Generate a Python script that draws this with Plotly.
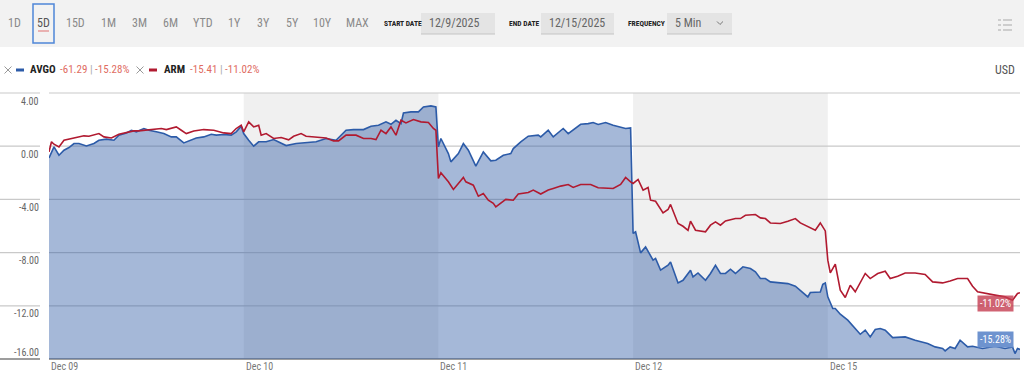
import plotly.graph_objects as go

# ---------------- data ----------------
avgo_time = [
    "12-09 09:30", "12-09 09:40", "12-09 09:50", "12-09 10:00", "12-09 10:10", "12-09 10:20", "12-09 10:30",
    "12-09 10:45", "12-09 11:00", "12-09 11:10", "12-09 11:25", "12-09 11:40", "12-09 11:50", "12-09 12:05",
    "12-09 12:15", "12-09 12:25", "12-09 12:40", "12-09 12:50", "12-09 13:05", "12-09 13:20", "12-09 13:35",
    "12-09 13:45", "12-09 14:00", "12-09 14:15", "12-09 14:25", "12-09 14:40", "12-09 14:55", "12-09 15:05",
    "12-09 15:20", "12-09 15:35", "12-09 15:45", "12-09 15:55",
    "12-10 09:30", "12-10 09:40", "12-10 09:50", "12-10 10:00", "12-10 10:15", "12-10 10:30", "12-10 10:45",
    "12-10 10:55", "12-10 11:15", "12-10 11:35", "12-10 11:55", "12-10 12:15", "12-10 12:35", "12-10 12:55",
    "12-10 13:10", "12-10 13:30", "12-10 13:45", "12-10 14:00", "12-10 14:15", "12-10 14:25", "12-10 14:35",
    "12-10 14:45", "12-10 14:50", "12-10 15:05", "12-10 15:20", "12-10 15:30", "12-10 15:45", "12-10 15:55",
    "12-11 09:30", "12-11 09:35", "12-11 09:50", "12-11 09:55", "12-11 10:10", "12-11 10:20", "12-11 10:30",
    "12-11 10:45", "12-11 11:00", "12-11 11:15", "12-11 11:25", "12-11 11:40", "12-11 11:55", "12-11 12:00",
    "12-11 12:15", "12-11 12:30", "12-11 12:50", "12-11 12:55", "12-11 13:10", "12-11 13:20", "12-11 13:40",
    "12-11 13:50", "12-11 14:05", "12-11 14:15", "12-11 14:30", "12-11 14:40", "12-11 14:50", "12-11 15:05",
    "12-11 15:20", "12-11 15:35", "12-11 15:45", "12-11 15:55",
    "12-12 09:30", "12-12 09:35", "12-12 09:45", "12-12 09:55", "12-12 10:10", "12-12 10:15", "12-12 10:25",
    "12-12 10:40", "12-12 10:45", "12-12 11:00", "12-12 11:10", "12-12 11:25", "12-12 11:30", "12-12 11:40",
    "12-12 11:55", "12-12 12:05", "12-12 12:15", "12-12 12:25", "12-12 12:35", "12-12 12:45", "12-12 12:55",
    "12-12 13:10", "12-12 13:25", "12-12 13:35", "12-12 13:45", "12-12 13:55", "12-12 14:05", "12-12 14:25",
    "12-12 14:40", "12-12 14:55", "12-12 15:05", "12-12 15:20", "12-12 15:25", "12-12 15:45", "12-12 15:50",
    "12-12 15:55",
    "12-15 09:30", "12-15 09:40", "12-15 09:45", "12-15 09:55", "12-15 10:10", "12-15 10:25", "12-15 10:35",
    "12-15 10:45", "12-15 10:55", "12-15 11:05", "12-15 11:15", "12-15 11:25", "12-15 11:40", "12-15 12:05",
    "12-15 12:25", "12-15 12:50", "12-15 13:05", "12-15 13:20", "12-15 13:25", "12-15 13:35", "12-15 13:45",
    "12-15 13:55", "12-15 14:10", "12-15 14:20", "12-15 14:40", "12-15 15:05", "12-15 15:25", "12-15 15:40",
    "12-15 15:45", "12-15 15:50", "12-15 15:55",
]
avgo_pct = [
    -0.88, -0.05, -0.68, -0.30, -0.10, 0.20, 0.20,
    0.02, 0.20, 0.45, 0.53, 0.45, 0.83, 1.00,
    1.20, 1.08, 1.33, 1.20, 1.08, 0.95, 0.70,
    0.70, 0.25, 0.45, 0.62, 0.70, 0.90, 0.83,
    0.88, 0.83, 1.08, 1.50,
    0.95, 0.45, 0.00, 0.33, 0.33, 0.50, 0.20,
    0.05, 0.20, 0.28, 0.33, 0.58, 0.45, 1.20,
    1.25, 1.25, 1.50, 1.58, 1.83, 1.65, 1.95,
    1.70, 2.50, 2.58, 2.58, 2.95, 3.03, 2.95,
    -0.05, 0.58, -0.55, -1.18, -0.55, 0.20, -0.30,
    -1.50, -0.43, -1.10, -1.05, -0.68, -0.55, -0.18,
    0.33, 0.75, 0.83, 0.70, 1.20, 0.70, 1.33,
    0.95, 1.33, 1.65, 1.70, 1.78, 1.63, 1.78,
    1.58, 1.45, 1.33, 1.38,
    -6.56, -6.44, -8.02, -7.57, -8.57, -8.44, -9.32,
    -8.95, -8.70, -10.28, -10.08, -9.32, -9.83, -9.53,
    -10.08, -9.57, -8.95, -9.57, -9.57, -9.25, -9.57,
    -9.07, -9.20, -9.45, -9.95, -9.95, -10.20, -10.28,
    -10.33, -10.53, -10.83, -11.33, -11.00, -10.96, -10.38,
    -10.28,
    -11.33, -12.20, -12.20, -12.63, -13.08, -13.71, -14.14,
    -13.83, -14.34, -13.78, -13.71, -13.83, -14.39, -14.34,
    -14.59, -14.84, -15.09, -15.21, -15.39, -15.09, -15.21,
    -14.59, -15.09, -15.04, -15.21, -15.04, -15.21, -15.09,
    -15.59, -15.21, -15.28,
]

arm_time = [
    "12-09 09:30", "12-09 09:35", "12-09 09:40", "12-09 09:50", "12-09 10:00", "12-09 10:10", "12-09 10:25",
    "12-09 10:40", "12-09 10:50", "12-09 11:10", "12-09 11:20", "12-09 11:35", "12-09 11:50", "12-09 12:00",
    "12-09 12:20", "12-09 12:30", "12-09 12:55", "12-09 13:15", "12-09 13:25", "12-09 13:45", "12-09 13:55",
    "12-09 14:05", "12-09 14:20", "12-09 14:40", "12-09 15:00", "12-09 15:20", "12-09 15:35", "12-09 15:45",
    "12-09 15:55",
    "12-10 09:30", "12-10 09:40", "12-10 09:50", "12-10 10:00", "12-10 10:05", "12-10 10:15", "12-10 10:30",
    "12-10 10:45", "12-10 11:00", "12-10 11:10", "12-10 11:25", "12-10 11:35", "12-10 11:55", "12-10 12:15",
    "12-10 12:30", "12-10 12:40", "12-10 12:55", "12-10 13:15", "12-10 13:30", "12-10 13:45", "12-10 13:55",
    "12-10 14:05", "12-10 14:15", "12-10 14:25", "12-10 14:35", "12-10 14:45", "12-10 14:55", "12-10 15:10",
    "12-10 15:25", "12-10 15:40", "12-10 15:50", "12-10 15:55",
    "12-11 09:30", "12-11 09:35", "12-11 09:50", "12-11 10:00", "12-11 10:10", "12-11 10:20", "12-11 10:25",
    "12-11 10:40", "12-11 10:50", "12-11 11:00", "12-11 11:10", "12-11 11:20", "12-11 11:25", "12-11 11:35",
    "12-11 11:45", "12-11 12:00", "12-11 12:10", "12-11 12:30", "12-11 12:40", "12-11 12:55", "12-11 13:10",
    "12-11 13:20", "12-11 13:35", "12-11 13:50", "12-11 14:00", "12-11 14:15", "12-11 14:35", "12-11 14:50",
    "12-11 15:05", "12-11 15:20", "12-11 15:35", "12-11 15:45", "12-11 15:55",
    "12-12 09:30", "12-12 09:40", "12-12 09:50", "12-12 10:00", "12-12 10:05", "12-12 10:15", "12-12 10:30",
    "12-12 10:40", "12-12 10:45", "12-12 11:00", "12-12 11:10", "12-12 11:20", "12-12 11:25", "12-12 11:35",
    "12-12 11:55", "12-12 12:05", "12-12 12:15", "12-12 12:25", "12-12 12:35", "12-12 12:55", "12-12 13:05",
    "12-12 13:15", "12-12 13:35", "12-12 13:45", "12-12 13:55", "12-12 14:05", "12-12 14:25", "12-12 14:40",
    "12-12 14:55", "12-12 15:05", "12-12 15:20", "12-12 15:35", "12-12 15:45", "12-12 15:55",
    "12-15 09:30", "12-15 09:35", "12-15 09:45", "12-15 09:55", "12-15 10:05", "12-15 10:15", "12-15 10:25",
    "12-15 10:35", "12-15 10:45", "12-15 10:55", "12-15 11:10", "12-15 11:25", "12-15 11:35", "12-15 11:50",
    "12-15 12:05", "12-15 12:25", "12-15 12:45", "12-15 13:00", "12-15 13:20", "12-15 13:35", "12-15 13:50",
    "12-15 14:10", "12-15 14:20", "12-15 14:30", "12-15 14:45", "12-15 15:05", "12-15 15:25", "12-15 15:40",
    "12-15 15:50", "12-15 15:55",
]
arm_pct = [
    -0.43, 0.33, 0.15, -0.05, 0.45, 0.53, 0.62,
    0.78, 0.75, 0.95, 0.70, 0.62, 0.90, 1.00,
    1.15, 1.15, 1.25, 1.33, 1.25, 1.45, 1.20,
    0.95, 1.15, 1.25, 1.20, 1.00, 0.95, 1.33,
    1.58,
    1.08, 1.83, 1.45, 1.58, 0.83, 0.95, 0.58,
    0.65, 0.48, 0.75, 0.95, 0.75, 0.70, 0.62,
    0.40, 0.40, 0.83, 0.83, 0.58, 0.58, 0.50,
    1.20, 0.95, 1.45, 0.83, 1.95, 1.75, 2.00,
    1.83, 1.78, 1.33, 1.20,
    -2.43, -2.00, -2.68, -3.25, -2.80, -2.35, -2.68,
    -2.93, -3.76, -3.56, -4.06, -4.30, -4.56, -4.26,
    -4.00, -4.06, -3.60, -3.48, -3.30, -3.60, -3.30,
    -3.18, -3.00, -2.88, -3.10, -2.88, -2.88, -3.13,
    -3.18, -3.18, -2.88, -2.35, -2.68,
    -2.80, -2.50, -3.30, -3.10, -4.06, -4.14, -5.01,
    -4.76, -4.38, -5.81, -6.02, -6.32, -5.64, -6.32,
    -6.44, -5.94, -5.69, -5.94, -5.62, -5.44, -5.44,
    -5.19, -5.14, -5.39, -5.44, -5.77, -5.81, -5.64,
    -5.44, -5.77, -6.02, -6.32, -5.77, -6.37,
    -8.57, -9.53, -8.87, -10.83, -11.38, -10.45, -10.95,
    -10.28, -9.57, -9.95, -9.57, -9.40, -9.95, -9.77,
    -9.53, -9.53, -9.65, -10.20, -10.28, -10.13, -9.95,
    -9.95, -10.53, -10.95, -11.08, -11.20, -11.33, -11.58,
    -11.08, -11.02,
]

year = "2025-"
day_ticks = ["12-09 09:30", "12-10 09:30", "12-11 09:30", "12-12 09:30", "12-15 09:30"]
day_labels = ["Dec 09", "Dec 10", "Dec 11", "Dec 12", "Dec 15"]
shaded_sessions = [("12-10 09:30", "12-11 09:30"), ("12-12 09:30", "12-15 09:30")]
x_range = ["12-09 09:30", "12-15 15:55"]
y_ticks = [4, 0, -4, -8, -12, -16]
y_labels = ["4.00", "0.00", "-4.00", "-8.00", "-12.00", "-16.00"]
y_min, y_max = -16, 4

range_buttons = ["1D", "5D", "15D", "1M", "3M", "6M", "YTD", "1Y", "3Y", "5Y", "10Y", "MAX"]
selected_button = "5D"
start_date, end_date, frequency = "12/9/2025", "12/15/2025", "5 Min"
legend_items = [("AVGO", "-61.29", "-15.28%"), ("ARM", "-15.41", "-11.02%")]
last_labels = ["-15.28%", "-11.02%"]

# ---------------- styling ----------------
W, H = 1024, 381
L, R, T, B = 49, 4, 93, 22
PW, PH = W - L - R, H - T - B
FONT = "Liberation Sans Narrow, Roboto Condensed, Arial Narrow, Roboto, sans-serif"
BLUE = "#2c5ba8"
RED = "#b11a30"
FILL = "rgba(46,90,164,0.43)"


def px(x):
    return (x - L) / PW


def py(y):
    return (H - B - y) / PH


def ts(s):
    return year + s


fig = go.Figure()

ax = [ts(t) for t in avgo_time]
fig.add_trace(go.Scatter(x=ax, y=[y_min] * len(ax), mode="lines", line=dict(width=0),
                         hoverinfo="skip", showlegend=False))
fig.add_trace(go.Scatter(x=ax, y=avgo_pct, mode="lines", fill="tonexty", fillcolor=FILL,
                         line=dict(color=BLUE, width=1.6), name="AVGO", showlegend=False))
fig.add_trace(go.Scatter(x=[ts(t) for t in arm_time], y=arm_pct, mode="lines",
                         line=dict(color=RED, width=1.6), name="ARM", showlegend=False))

shapes = []
annotations = []

# shaded alternate sessions
for a, b in shaded_sessions:
    shapes.append(dict(type="rect", xref="x", yref="paper", x0=ts(a), x1=ts(b), y0=0, y1=1,
                       fillcolor="#f0f0f0", line=dict(width=0), layer="below"))

# horizontal grid lines (incl. the short parts under the labels)
for v in y_ticks:
    yy = (v - y_min) / (y_max - y_min)
    col = "#7d7d7d" if v == y_min else "#c9c9c9"
    lw = 1.5 if v == y_min else 1.2
    shapes.append(dict(type="line", xref="paper", yref="paper", x0=px(0), x1=px(40), y0=yy, y1=yy,
                       line=dict(color=col, width=lw), layer="below"))
    shapes.append(dict(type="line", xref="paper", yref="paper", x0=0, x1=1, y0=yy, y1=yy,
                       line=dict(color=col, width=lw), layer="below"))

# y labels
for v, lab in zip(y_ticks, y_labels):
    annotations.append(dict(xref="paper", yref="y", x=px(41), y=v, xanchor="right", yanchor="middle",
                            yshift=(7 if v == y_min else -8), text=lab, showarrow=False,
                            font=dict(family=FONT, size=10, color="#666666")))

# x labels
for t, lab in zip(day_ticks, day_labels):
    annotations.append(dict(xref="x", yref="paper", x=ts(t), y=py(366), xanchor="left", yanchor="middle",
                            text=lab, showarrow=False, font=dict(family=FONT, size=10, color="#777777")))

# ---------------- header toolbar ----------------
shapes.append(dict(type="rect", xref="paper", yref="paper", x0=px(0), x1=px(W), y0=py(0), y1=py(47),
                   fillcolor="#f2f2f2", line=dict(width=0), layer="below"))
btn_x = [14, 43, 75, 108, 139, 170, 203, 234, 263, 292, 322, 357]
for bx, lab in zip(btn_x, range_buttons):
    sel = lab == selected_button
    annotations.append(dict(xref="paper", yref="paper", x=px(bx), y=py(23), xanchor="center",
                            yanchor="middle", text=lab, showarrow=False,
                            font=dict(family=FONT, size=12, color="#555555" if sel else "#8a8a8a")))
    if sel:
        shapes.append(dict(type="rect", xref="paper", yref="paper", x0=px(33), x1=px(54),
                           y0=py(4), y1=py(43), line=dict(color="#4f86d8", width=1.5),
                           fillcolor="rgba(0,0,0,0)"))
        shapes.append(dict(type="line", xref="paper", yref="paper", x0=px(38), x1=px(49),
                           y0=py(31), y1=py(31), line=dict(color="#e07070", width=1)))

for lx, lab in [(382, "START DATE"), (507, "END DATE"), (626, "FREQUENCY")]:
    annotations.append(dict(xref="paper", yref="paper", x=px(lx), y=py(23), xanchor="left",
                            yanchor="middle", text="<b>" + lab + "</b>", showarrow=False,
                            font=dict(family=FONT, size=7.5, color="#222222")))
for x0, x1, txt in [(421, 495, start_date), (541, 614, end_date), (667, 732, frequency)]:
    shapes.append(dict(type="rect", xref="paper", yref="paper", x0=px(x0), x1=px(x1),
                       y0=py(13), y1=py(34), fillcolor="#e4e4e4", line=dict(width=0)))
    shapes.append(dict(type="line", xref="paper", yref="paper", x0=px(x0), x1=px(x1),
                       y0=py(34), y1=py(34), line=dict(color="#c4c4c4", width=1)))
    annotations.append(dict(xref="paper", yref="paper", x=px(x0 + 6), y=py(23), xanchor="left",
                            yanchor="middle", text=txt, showarrow=False,
                            font=dict(family=FONT, size=12, color="#666666")))
# dropdown chevron
shapes.append(dict(type="path", xref="paper", yref="paper",
                   path="M %f %f L %f %f L %f %f" % (px(717), py(21.5), px(720), py(24.5), px(723), py(21.5)),
                   line=dict(color="#777777", width=1)))
# list icon
for ry in [20, 25, 30]:
    shapes.append(dict(type="line", xref="paper", yref="paper", x0=px(998), x1=px(1001), y0=py(ry), y1=py(ry),
                       line=dict(color="#b5b5b5", width=1.2)))
    shapes.append(dict(type="line", xref="paper", yref="paper", x0=px(1003), x1=px(1012), y0=py(ry), y1=py(ry),
                       line=dict(color="#b5b5b5", width=1.2)))

# ---------------- legend row ----------------
leg_pos = [(8, 16, 24, 28, 58), (140, 149, 157, 162, 188)]
leg_col = [BLUE, RED]
for (xx, d0, d1, nx, vx), (name, chg, pct), col in zip(leg_pos, legend_items, leg_col):
    s = 3.5
    shapes.append(dict(type="line", xref="paper", yref="paper", x0=px(xx - s), x1=px(xx + s),
                       y0=py(70 - s), y1=py(70 + s), line=dict(color="#999999", width=1)))
    shapes.append(dict(type="line", xref="paper", yref="paper", x0=px(xx - s), x1=px(xx + s),
                       y0=py(70 + s), y1=py(70 - s), line=dict(color="#999999", width=1)))
    shapes.append(dict(type="line", xref="paper", yref="paper", x0=px(d0), x1=px(d1), y0=py(70), y1=py(70),
                       line=dict(color=col, width=3)))
    annotations.append(dict(xref="paper", yref="paper", x=px(nx), y=py(70), xanchor="left", yanchor="middle",
                            text="<b>" + name + "</b>", showarrow=False,
                            font=dict(family=FONT, size=11, color="#222222")))
    annotations.append(dict(xref="paper", yref="paper", x=px(vx), y=py(70), xanchor="left", yanchor="middle",
                            text=chg + " <span style='color:#aaaaaa'>|</span> " + pct, showarrow=False,
                            font=dict(family=FONT, size=11, color="#e06c62")))
annotations.append(dict(xref="paper", yref="paper", x=px(1017), y=py(70), xanchor="right", yanchor="middle",
                        text="USD", showarrow=False, font=dict(family=FONT, size=12, color="#555555")))

# ---------------- last value tags ----------------
for lab, yc, bg in [(last_labels[0], 339.5, "#6e93cf"), (last_labels[1], 303, "rgba(196,60,80,0.8)")]:
    annotations.append(dict(xref="paper", yref="paper", x=px(995.5), y=py(yc), xanchor="center",
                            yanchor="middle", text=lab, showarrow=False, bgcolor=bg, borderpad=2,
                            font=dict(family=FONT, size=10, color="#ffffff")))

fig.update_layout(
    width=W, height=H, margin=dict(l=L, r=R, t=T, b=B, autoexpand=False),
    paper_bgcolor="#ffffff", plot_bgcolor="#ffffff",
    showlegend=False, shapes=shapes, annotations=annotations,
    xaxis=dict(type="date", range=[ts(x_range[0]), ts(x_range[1])], showgrid=False, zeroline=False,
               showticklabels=False, showline=False, fixedrange=True,
               rangebreaks=[dict(bounds=["sat", "mon"]), dict(bounds=[16, 9.5], pattern="hour")]),
    yaxis=dict(range=[y_min, y_max], showgrid=False, zeroline=False, showticklabels=False,
               showline=False, fixedrange=True),
    hovermode=False,
)

fig.write_html("out.html", config={"displayModeBar": False})
